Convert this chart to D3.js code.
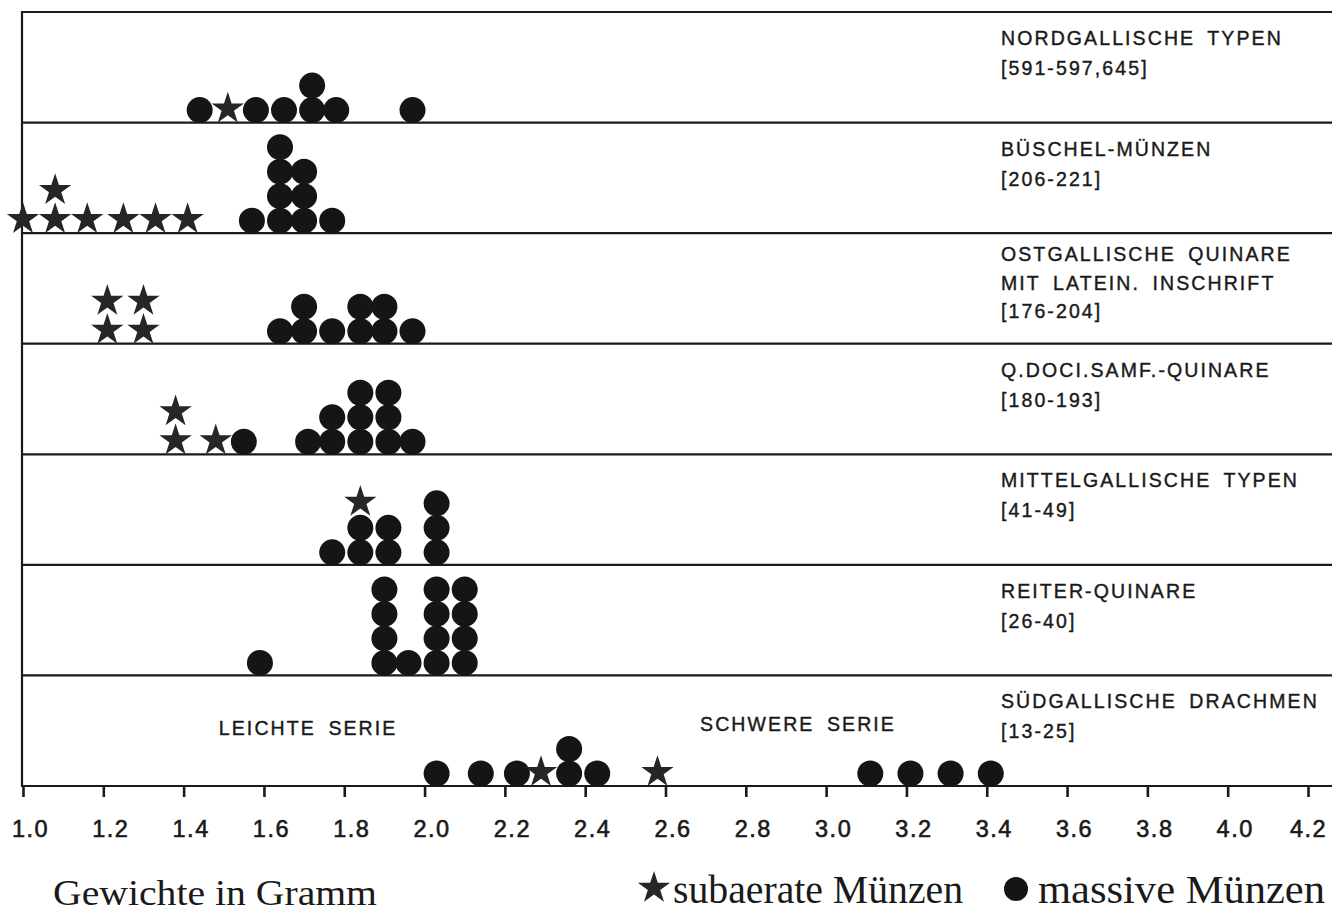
<!DOCTYPE html>
<html>
<head>
<meta charset="utf-8">
<script src="https://cdn.jsdelivr.net/npm/d3@7"></script>
<style>
  html, body { margin: 0; padding: 0; background: #fff; }
  svg { display: block; }
  .lab { font-family: "Liberation Sans", Arial, sans-serif; font-size: 19.5px; letter-spacing: 2.1px; word-spacing: 5px; fill: #1a1a1a; stroke: #1a1a1a; stroke-width: 0.4px; }
  .serif { font-family: "Liberation Serif", "Times New Roman", serif; fill: #1a1a1a; }
</style>
</head>
<body>
<svg id="chart" width="1332" height="913"></svg>
<script>
// ---- data ----
const categories = [
  ["NORDGALLISCHE TYPEN", "[591-597,645]"],
  ["BÜSCHEL-MÜNZEN", "[206-221]"],
  ["OSTGALLISCHE QUINARE", "MIT LATEIN. INSCHRIFT", "[176-204]"],
  ["Q.DOCI.SAMF.-QUINARE", "[180-193]"],
  ["MITTELGALLISCHE TYPEN", "[41-49]"],
  ["REITER-QUINARE", "[26-40]"],
  ["SÜDGALLISCHE DRACHMEN", "[13-25]"]
];
// massive coins (circles), weights in gram, per category
const massive = [
  [1.44, 1.58, 1.65, 1.72, 1.72, 1.78, 1.97],
  [1.57, 1.64, 1.64, 1.64, 1.64, 1.70, 1.70, 1.70, 1.77],
  [1.64, 1.70, 1.70, 1.77, 1.84, 1.84, 1.90, 1.90, 1.97],
  [1.55, 1.71, 1.77, 1.77, 1.84, 1.84, 1.84, 1.91, 1.91, 1.91, 1.97],
  [1.77, 1.84, 1.84, 1.91, 1.91, 2.03, 2.03, 2.03],
  [1.59, 1.90, 1.90, 1.90, 1.90, 1.96, 2.03, 2.03, 2.03, 2.03, 2.10, 2.10, 2.10, 2.10],
  [2.03, 2.14, 2.23, 2.36, 2.36, 2.43, 3.11, 3.21, 3.31, 3.41]
];
// subaerate coins (stars)
const subaerate = [
  [1.51],
  [1.00, 1.08, 1.08, 1.16, 1.25, 1.33, 1.41],
  [1.21, 1.21, 1.30, 1.30],
  [1.38, 1.38, 1.48],
  [1.84],
  [],
  [2.29, 2.58]
];
const tickValues = [1.0, 1.2, 1.4, 1.6, 1.8, 2.0, 2.2, 2.4, 2.6, 2.8, 3.0, 3.2, 3.4, 3.6, 3.8, 4.0, 4.2];
const seriesNotes = [
  { text: "LEICHTE SERIE", w: 1.71, row: 6 },
  { text: "SCHWERE SERIE", w: 2.93, row: 6 }
];
const legendItems = ["subaerate Münzen", "massive Münzen"];
const axisTitle = "Gewichte in Gramm";

// ---- drawing ----
const svg = d3.select("#chart");
const ink = "#1a1a1a";
const x = d3.scaleLinear().domain([1.0, 4.2]).range([23, 1308]);
const y = d3.scaleBand().domain(d3.range(categories.length)).range([12, 786]);
const bw = y.bandwidth();
const rightEdge = 1332;
const left = x(1.0) - 1;

// frame lines
svg.append("line").attr("x1", left).attr("x2", rightEdge).attr("y1", y(0)).attr("y2", y(0))
  .attr("stroke", ink).attr("stroke-width", 2.2);
svg.selectAll("line.sep").data(d3.range(categories.length)).join("line").attr("class", "sep")
  .attr("x1", left).attr("x2", rightEdge)
  .attr("y1", d => y(d) + bw).attr("y2", d => y(d) + bw)
  .attr("stroke", ink).attr("stroke-width", 2.2);
svg.append("line").attr("x1", left).attr("x2", left).attr("y1", y(0) - 1).attr("y2", y(categories.length - 1) + bw + 1)
  .attr("stroke", ink).attr("stroke-width", 2.2);

// axis
const axisG = svg.append("g").attr("transform", `translate(0,${y(categories.length - 1) + bw})`)
  .call(d3.axisBottom(x).tickValues(tickValues).tickSize(11).tickPadding(40).tickFormat(d3.format(".1f")));
axisG.select(".domain").remove();
axisG.selectAll(".tick line").attr("stroke", ink).attr("stroke-width", 2.6);
axisG.selectAll(".tick text")
  .attr("x", (d, i, n) => i === n.length - 1 ? 0 : 7).attr("dy", "0")
  .style("font-family", '"Liberation Sans", Arial, sans-serif')
  .style("font-size", "23.5px").style("letter-spacing", "1.5px")
  .style("fill", ink).style("stroke", ink).style("stroke-width", "0.6px");

// category labels
categories.forEach((lines, i) => {
  const start = lines.length === 3 ? 28 : 33;
  const step = lines.length === 3 ? 28.5 : 30;
  svg.append("g").selectAll("text").data(lines).join("text")
    .attr("class", "lab")
    .attr("x", 1001)
    .attr("y", (d, j) => y(i) + start + step * j)
    .text(d => d);
});

// series notes
svg.selectAll("text.note").data(seriesNotes).join("text")
  .attr("class", "lab note")
  .attr("text-anchor", "middle")
  .attr("x", d => x(d.w))
  .attr("y", (d, k) => y(d.row) + (k === 0 ? 60 : 56))
  .text(d => d.text);

// marks
const R = 13;
const starR = 17;
const starPath = d3.symbol().type(d3.symbolStar).size(starR * starR / 0.8908130915292852)();
const marks = [];
categories.forEach((_, i) => {
  const cnt = new Map();
  massive[i].forEach(w => {
    const k = w.toFixed(2); const n = cnt.get(k) || 0;
    marks.push({ row: i, w, type: "c", off: 12.5 + 24.5 * n });
    cnt.set(k, n + 1);
  });
  const scnt = new Map();
  subaerate[i].forEach(w => {
    const k = w.toFixed(2); const n = cnt.get(k) || 0; const m = scnt.get(k) || 0;
    marks.push({ row: i, w, type: "s", off: 13.8 + 24.5 * n + 29 * m });
    scnt.set(k, m + 1);
  });
});
svg.append("g").selectAll("circle").data(marks.filter(d => d.type === "c")).join("circle")
  .attr("cx", d => x(d.w))
  .attr("cy", d => y(d.row) + bw - d.off)
  .attr("r", R)
  .attr("fill", "#151515");
svg.append("g").selectAll("path").data(marks.filter(d => d.type === "s")).join("path")
  .attr("d", starPath)
  .attr("transform", d => `translate(${x(d.w)},${y(d.row) + bw - d.off})`)
  .attr("fill", "#262626");

// bottom texts
svg.append("text").attr("class", "serif").attr("x", 53).attr("y", 905)
  .style("font-size", "35px").attr("textLength", 324).attr("lengthAdjust", "spacingAndGlyphs").text(axisTitle);
const leg = svg.append("g");
leg.append("path").attr("d", starPath).attr("transform", "translate(654,888)").attr("fill", "#262626");
leg.append("text").attr("class", "serif").attr("x", 673).attr("y", 903)
  .style("font-size", "40px").attr("textLength", 290).attr("lengthAdjust", "spacingAndGlyphs").text(legendItems[0]);
leg.append("circle").attr("cx", 1016).attr("cy", 889).attr("r", 12).attr("fill", "#151515");
leg.append("text").attr("class", "serif").attr("x", 1038).attr("y", 903)
  .style("font-size", "40px").attr("textLength", 287).attr("lengthAdjust", "spacingAndGlyphs").text(legendItems[1]);
</script>
</body>
</html>
